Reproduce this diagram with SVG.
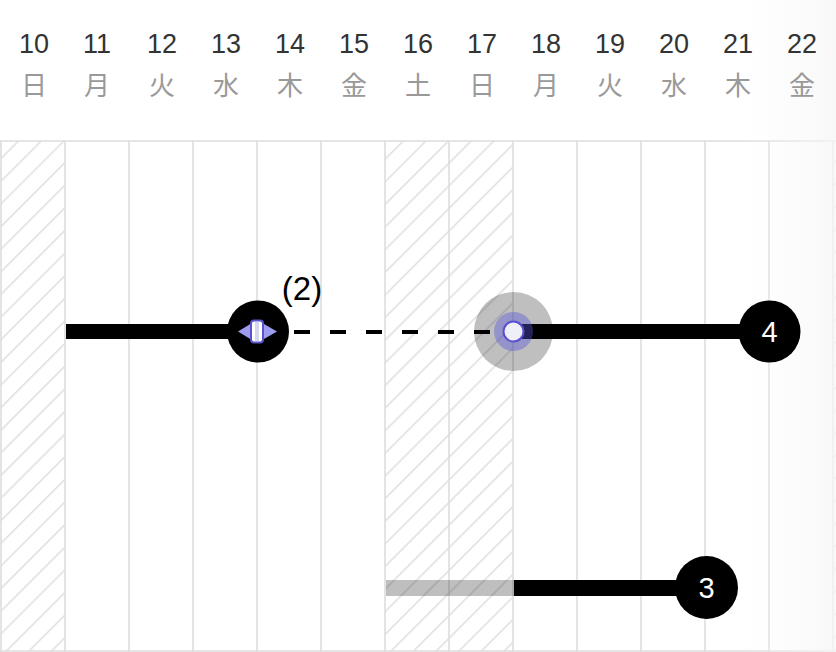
<svg xmlns="http://www.w3.org/2000/svg" width="836" height="652" viewBox="0 0 836 652">
<defs>
<pattern id="hatch" patternUnits="userSpaceOnUse" width="16" height="16" patternTransform="rotate(45)">
<rect x="0" y="0" width="1.6" height="16" fill="#dfe0e6"/>
</pattern>
<linearGradient id="fade" x1="0" y1="0" x2="1" y2="0">
<stop offset="0" stop-color="#fafafa" stop-opacity="0"/>
<stop offset="1" stop-color="#f6f6f6" stop-opacity="0.75"/>
</linearGradient>
<style>
.d{font-family:"Liberation Sans",Arial,sans-serif;font-size:27px;fill:#333;text-anchor:middle}
.w{font-family:"Noto Sans CJK JP","Noto Sans CJK SC",sans-serif;font-size:26px;fill:#999;text-anchor:middle}
.g{stroke:#dddddd;stroke-width:1.6}
.bar{fill:#000}
.num{font-family:"Liberation Sans",Arial,sans-serif;font-size:29px;fill:#fff;text-anchor:middle}
</style>
</defs>
<rect width="836" height="652" fill="#fff"/>
<g id="grid">
<rect x="1" y="141" width="64" height="510" fill="url(#hatch)"/>
<rect x="385" y="141" width="128" height="510" fill="url(#hatch)"/>
<rect x="833" y="141" width="64" height="510" fill="url(#hatch)"/>
<line class="g" x1="0" y1="141" x2="836" y2="141"/>
<line class="g" x1="0" y1="651" x2="836" y2="651"/>
<line class="g" x1="1" y1="141" x2="1" y2="652"/>
<line class="g" x1="65" y1="141" x2="65" y2="652"/>
<line class="g" x1="129" y1="141" x2="129" y2="652"/>
<line class="g" x1="193" y1="141" x2="193" y2="652"/>
<line class="g" x1="257" y1="141" x2="257" y2="652"/>
<line class="g" x1="321" y1="141" x2="321" y2="652"/>
<line class="g" x1="385" y1="141" x2="385" y2="652"/>
<line class="g" x1="449" y1="141" x2="449" y2="652"/>
<line class="g" x1="513" y1="141" x2="513" y2="652"/>
<line class="g" x1="577" y1="141" x2="577" y2="652"/>
<line class="g" x1="641" y1="141" x2="641" y2="652"/>
<line class="g" x1="705" y1="141" x2="705" y2="652"/>
<line class="g" x1="769" y1="141" x2="769" y2="652"/>
<line class="g" x1="833" y1="141" x2="833" y2="652"/>
<rect x="740" y="0" width="96" height="652" fill="url(#fade)"/>
</g>
<g id="header">
<text class="d" x="34" y="53">10</text><text class="w" x="34" y="95">日</text>
<text class="d" x="97" y="53">11</text><text class="w" x="97" y="95">月</text>
<text class="d" x="162" y="53">12</text><text class="w" x="162" y="95">火</text>
<text class="d" x="226" y="53">13</text><text class="w" x="226" y="95">水</text>
<text class="d" x="290" y="53">14</text><text class="w" x="290" y="95">木</text>
<text class="d" x="354" y="53">15</text><text class="w" x="354" y="95">金</text>
<text class="d" x="418" y="53">16</text><text class="w" x="418" y="95">土</text>
<text class="d" x="482" y="53">17</text><text class="w" x="482" y="95">日</text>
<text class="d" x="546" y="53">18</text><text class="w" x="546" y="95">月</text>
<text class="d" x="610" y="53">19</text><text class="w" x="610" y="95">火</text>
<text class="d" x="674" y="53">20</text><text class="w" x="674" y="95">水</text>
<text class="d" x="738" y="53">21</text><text class="w" x="738" y="95">木</text>
<text class="d" x="802" y="53">22</text><text class="w" x="802" y="95">金</text>
</g>
<g id="connectors">
<line x1="258" y1="332" x2="514" y2="332" stroke="#000" stroke-width="4" stroke-dasharray="16 20"/>
</g>
<g id="task1">
<rect class="bar" x="66" y="324" width="192" height="15"/>
<circle cx="258" cy="331.5" r="31" fill="#000"/>
<polygon points="238,331.5 257,320 277,331.5 257,343" fill="#9d9cf0"/>
<rect x="251" y="320.5" width="12" height="22" rx="3" fill="#fff" stroke="#5a52c8" stroke-width="2"/>
<rect x="255" y="322" width="4" height="19" fill="#d6d6ee"/>
<text x="302" y="300" font-family="Liberation Sans,Arial,sans-serif" font-size="33" fill="#000" text-anchor="middle">(2)</text>
</g>
<g id="task4">
<rect class="bar" x="514" y="324" width="255" height="15"/>
<circle cx="769.5" cy="331.5" r="31" fill="#000"/>
<text class="num" x="769.5" y="342">4</text>
</g>
<g id="handle">
<circle cx="513.5" cy="331.5" r="39.5" fill="#000" fill-opacity="0.25"/>
<circle cx="513.5" cy="331.5" r="19.5" fill="#5555dd" fill-opacity="0.4"/>
<circle cx="513.5" cy="331.5" r="10" fill="#efeff7" stroke="#5a4fd0" stroke-width="2"/>
</g>
<g id="task3">
<rect x="386" y="580" width="128" height="16" fill="#000" fill-opacity="0.25"/>
<rect class="bar" x="514" y="580" width="192" height="16"/>
<circle cx="706.5" cy="587.5" r="31.5" fill="#000"/>
<text class="num" x="706.5" y="598">3</text>
</g>
</svg>
